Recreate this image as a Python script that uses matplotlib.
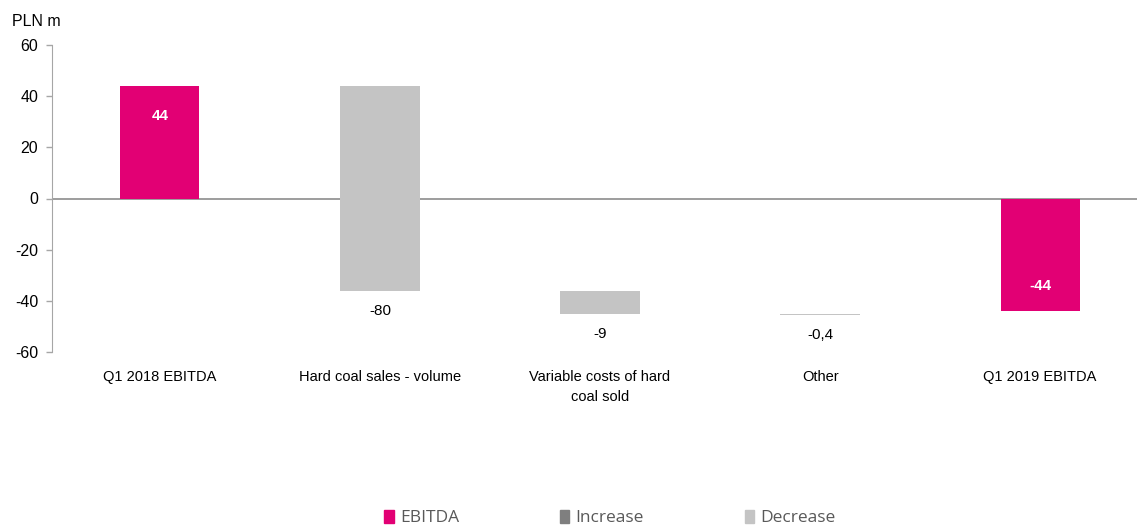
import matplotlib
matplotlib.use("Agg")
import matplotlib.pyplot as plt
from matplotlib.patches import Patch

plt.rcParams["font.family"] = ["Liberation Sans", "DejaVu Sans"]
plt.rcParams["axes.unicode_minus"] = False

MAGENTA = "#E20074"
DARKGREY = "#7F7F7F"
LIGHTGREY = "#C4C4C4"

categories = ["Q1 2018 EBITDA", "Hard coal sales - volume",
              "Variable costs of hard\ncoal sold", "Other", "Q1 2019 EBITDA"]
changes = [44, -80, -9, -0.4, -44]
labels = ["44", "-80", "-9", "-0,4", "-44"]
kinds = ["total", "step", "step", "step", "total"]
yticks = [-60, -40, -20, 0, 20, 40, 60]

# waterfall: totals start at zero, steps hang off the running sum
bottoms, heights, colors = [], [], []
running = 0.0
for v, k in zip(changes, kinds):
    if k == "total":
        bottoms.append(0.0)
        heights.append(v)
        colors.append(MAGENTA)
        running = v
    else:
        bottoms.append(running)
        heights.append(v)
        colors.append(DARKGREY if v > 0 else LIGHTGREY)
        running += v

W, H = 1137, 527
fig = plt.figure(figsize=(W / 100, H / 100), dpi=100)
ax = fig.add_axes([52 / W, (H - 352) / H, (W - 52) / W, 307 / H])

x = range(len(categories))
ax.bar(x, heights, bottom=bottoms, width=0.36, color=colors, zorder=3)
ax.axhline(0, color="#8C8C8C", lw=1.2, zorder=2)

for i, (b, h, lab, k) in enumerate(zip(bottoms, heights, labels, kinds)):
    end = b + h
    if k == "total":
        off = -22 if h > 0 else 18
        ax.annotate(lab, (i, end), xytext=(0, off), textcoords="offset points",
                    ha="center", va="center", color="white",
                    fontweight="bold", fontsize=11, zorder=4)
    else:
        ax.annotate(lab, (i, min(b, end)), xytext=(0, -15), textcoords="offset points",
                    ha="center", va="center", color="black", fontsize=11)

ax.set_xlim(-0.49, 4.44)
ax.set_ylim(-60, 60)
ax.set_yticks(yticks)
ax.set_yticklabels([str(t) for t in yticks])
ax.set_xticks(list(x))
ax.set_xticklabels(categories, fontsize=10.5, linespacing=1.55)
ax.tick_params(axis="x", length=0, pad=13)
ax.tick_params(axis="y", length=4, width=1, color="#A6A6A6", pad=6, labelsize=11.5)
for s in ("top", "right", "bottom"):
    ax.spines[s].set_visible(False)
ax.spines["left"].set_color("#A6A6A6")

fig.text(12 / W, 1 - 22 / H, "PLN m", fontsize=11.5, va="center", ha="left")

handles = [Patch(color=MAGENTA), Patch(color=DARKGREY), Patch(color=LIGHTGREY)]
fig.legend(handles, ["EBITDA", "Increase", "Decrease"], ncol=3,
           loc="center", bbox_to_anchor=(610 / W, 1 - 518 / H), frameon=False,
           handlelength=0.55, handleheight=0.75, handletextpad=0.35,
           columnspacing=5.8, prop={"family": "Open Sans", "size": 12.5},
           labelcolor="#595959")

fig.savefig("out.png", dpi=100, facecolor="white")
